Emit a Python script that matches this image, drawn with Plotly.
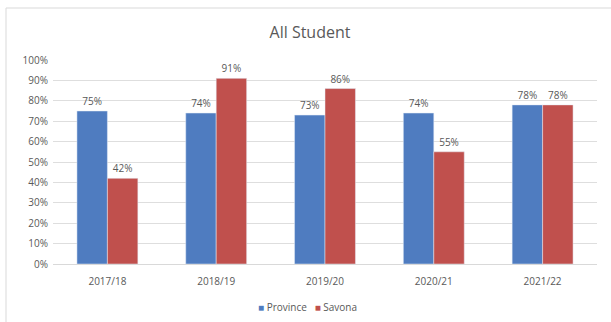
import plotly.graph_objects as go

years = ["2017/18", "2018/19", "2019/20", "2020/21", "2021/22"]
province = [75, 74, 73, 74, 78]
savona = [42, 91, 86, 55, 78]
y_ticks = list(range(0, 101, 10))
y_tick_labels = [f"{v}%" for v in y_ticks]

blue = "#4F7CC0"
red = "#C0504D"
txt = "#595959"
fig = go.Figure()
fig.add_trace(go.Bar(name="Province", x=years, y=province, marker_color=blue,
                     text=[f"{v}%" for v in province], textposition="outside",
                     textfont=dict(color=txt, size=10), cliponaxis=False, showlegend=False))
fig.add_trace(go.Bar(name="Savona", x=years, y=savona, marker_color=red,
                     text=[f"{v}%" for v in savona], textposition="outside",
                     textfont=dict(color=txt, size=10), cliponaxis=False, showlegend=False))

PW, PH = 544, 204
fig.update_layout(
    width=611, height=322,
    margin=dict(l=53, r=14, t=60, b=58),
    paper_bgcolor="white", plot_bgcolor="white",
    font=dict(family="Open Sans", color=txt, size=10),
    title=dict(text="All Student", x=310 / 611, xanchor="center", y=0.9, yanchor="middle",
               font=dict(size=16, color=txt)),
    barmode="group", bargap=0.44, bargroupgap=0,
    xaxis=dict(showline=True, linecolor="#D9D9D9", ticks="", ticklabelstandoff=8,
               tickfont=dict(size=10, color=txt)),
    yaxis=dict(range=[0, 100], tickvals=y_ticks, ticktext=y_tick_labels,
               gridcolor="#DEDEDE", zeroline=False, ticks="", ticklabelstandoff=4,
               tickfont=dict(size=10, color=txt)),
    annotations=[dict(
        xref="paper", yref="paper", x=0.468, y=-43 / PH, xanchor="center", yanchor="middle",
        showarrow=False, font=dict(size=10, color=txt),
        text=f"<span style='color:{blue}'>■</span> Province   <span style='color:{red}'>■</span> Savona")],
    shapes=[dict(type="rect", xref="paper", yref="paper",
                 x0=-47 / PW, x1=1 + 40 / PW, y0=-80 / PH, y1=1 + 52 / PH,
                 line=dict(color="#D9D9D9", width=1), fillcolor="rgba(0,0,0,0)")],
)
fig.write_html("out.html")
